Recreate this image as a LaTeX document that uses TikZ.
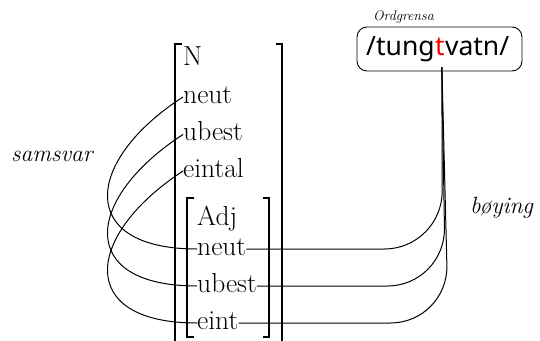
\documentclass[tikz,border=0pt]{standalone}
\usepackage{fontspec}
\newfontfamily\wordfont{Noto Sans}
\begin{document}
\begin{tikzpicture}[x=1pt,y=-1pt,
  row/.style={inner sep=0pt, text height=12pt, text depth=0pt, anchor=base west, font=\fontsize{27.5}{33}\selectfont},
  lbl/.style={inner sep=0pt, anchor=base west, font=\fontsize{23.5}{28}\selectfont\itshape},
  brk/.style={line width=1.6pt},
  link/.style={line width=1pt},
  bendlink/.style={link, rounded corners=58pt},
  word/.style={inner sep=0pt, anchor=base west, font=\wordfont\fontsize{26.5}{32}\selectfont},
  wordbox/.style={draw, line width=0.9pt, rounded corners=10pt, minimum width=165pt, minimum height=44pt, inner sep=0pt}]
\useasboundingbox (0,0) rectangle (540,340);

% brackets
\draw[brk] (182,44) -- (175,44) -- (175,342);
\draw[brk] (276,44) -- (282,44) -- (282,342);
\draw[brk] (194,198) -- (187,198) -- (187,337) -- (194,337);
\draw[brk] (263,198) -- (269,198) -- (269,337) -- (263,337);

% outer rows
\node[row] (o0) at (183,65) {N};
\node[row] (o1) at (183,103) {neut};
\node[row] (o2) at (183,140.5) {ubest};
\node[row] (o3) at (183,177) {eintal};
% inner rows
\node[row] (i0) at (197,225) {Adj};
\node[row] (i1) at (197,255) {neut};
\node[row] (i2) at (197,292) {ubest};
\node[row] (i3) at (197,329) {eint};

% labels
\node[lbl] (samsvar) at (11,161.5) {samsvar};
\node[lbl] (boying) at (470,213) {bøying};
\node[inner sep=0pt, anchor=base west, font=\fontsize{14}{17}\selectfont\itshape] (ordg) at (373,20.5) {Ordgrensa};

% word box
\node[wordbox] (box) at (439.5,49) {};
\node[word] (w1) at (366,55) {/tung};
\node[word, text=red] (tt) at (w1.base east) {t};
\node[word] (w2) at (tt.base east) {vatn/};
\coordinate (tb) at ([xshift=2pt,yshift=-12pt]tt.base);

% agreement links
\draw[link] (o1.west) .. controls (85,160) and (75,249) .. (i1.west);
\draw[link] (o2.west) .. controls (85,198) and (75,286) .. (i2.west);
\draw[link] (o3.west) .. controls (85,235) and (75,323) .. (i3.west);

% inflection links
\draw[bendlink] (i1.east) -- ([xshift=0.5pt]tb |- i1.east) -- (tb);
\draw[bendlink] (i2.east) -- ([xshift=3.5pt]tb |- i2.east) -- (tb);
\draw[bendlink] (i3.east) -- ([xshift=6.5pt]tb |- i3.east) -- (tb);
\end{tikzpicture}
\end{document}
